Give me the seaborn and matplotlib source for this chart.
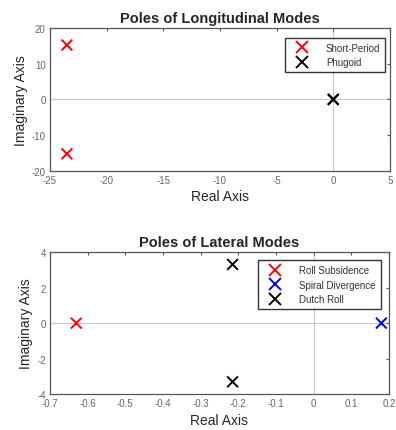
import matplotlib
matplotlib.use("Agg")
import matplotlib.pyplot as plt
from matplotlib.lines import Line2D
import seaborn as sns
import pandas as pd

# pole locations
lon_modes = ["Short-Period", "Short-Period", "Phugoid", "Phugoid"]
lon_real = [-23.5, -23.5, -0.01, -0.01]
lon_imag = [15.2, -15.2, 0.08, -0.08]
lon_colors = {"Short-Period": "red", "Phugoid": "black"}

lat_modes = ["Roll Subsidence", "Spiral Divergence", "Dutch Roll", "Dutch Roll"]
lat_real = [-0.63, 0.18, -0.215, -0.215]
lat_imag = [0.0, 0.0, 3.3, -3.3]
lat_colors = {"Roll Subsidence": "red", "Spiral Divergence": "blue", "Dutch Roll": "black"}

sns.set_style("white")
plt.rcParams["font.family"] = ["Liberation Sans", "DejaVu Sans"]

fig = plt.figure(figsize=(3.96, 4.31), dpi=100)
ax1 = fig.add_axes([0.126, 0.601, 0.859, 0.332])
ax2 = fig.add_axes([0.126, 0.083, 0.856, 0.330])


def pole_plot(ax, modes, re, im, colors, title, xlim, ylim, xticks, yticks, legend_box):
    df = pd.DataFrame({"mode": modes, "real": re, "imag": im})
    ax.axhline(0, color="#c8c8c8", lw=0.8, zorder=0)
    ax.axvline(0, color="#c8c8c8", lw=0.8, zorder=0)
    sns.scatterplot(data=df, x="real", y="imag", hue="mode", palette=colors,
                    marker="x", s=60, linewidth=1.4, ax=ax, zorder=3, legend=False)
    ax.set_xlim(xlim)
    ax.set_ylim(ylim)
    ax.set_xticks(xticks)
    ax.set_yticks(yticks)
    ax.set_xticklabels([f"{t:g}" for t in xticks])
    ax.set_yticklabels([f"{t:g}" for t in yticks])
    ax.tick_params(direction="in", length=2.5, labelsize=7, colors="#555555",
                   labelcolor="#666666", top=True, right=True, pad=3)
    for s in ax.spines.values():
        s.set_color("#555555")
        s.set_linewidth(0.9)
    ax.set_title(title, fontsize=10.5, fontweight="bold", pad=4)
    ax.set_xlabel("Real Axis", fontsize=10, labelpad=3)
    ax.set_ylabel("Imaginary Axis", fontsize=10, labelpad=3)
    names = list(dict.fromkeys(modes))
    handles = [Line2D([], [], ls="none", marker="x", color=colors[n], markersize=8,
                      markeredgewidth=1.4) for n in names]
    leg = ax.legend(handles, names, loc="upper right", bbox_to_anchor=legend_box,
                    fontsize=7, frameon=True, fancybox=False, borderpad=0.5,
                    handletextpad=1.2, labelspacing=0.45, handlelength=2.5)
    leg.get_frame().set_edgecolor("black")
    leg.get_frame().set_linewidth(1.0)
    for t in leg.get_texts():
        t.set_color("#333333")


pole_plot(ax1, lon_modes, lon_real, lon_imag, lon_colors,
          "Poles of Longitudinal Modes", (-25, 5), (-20, 20),
          [-25, -20, -15, -10, -5, 0, 5], [-20, -10, 0, 10, 20], (1.0, 0.965))
pole_plot(ax2, lat_modes, lat_real, lat_imag, lat_colors,
          "Poles of Lateral Modes", (-0.7, 0.2), (-4, 4),
          [-0.7, -0.6, -0.5, -0.4, -0.3, -0.2, -0.1, 0, 0.1, 0.2],
          [-4, -2, 0, 2, 4], (0.99, 0.975))

fig.savefig("out.png", dpi=100)
